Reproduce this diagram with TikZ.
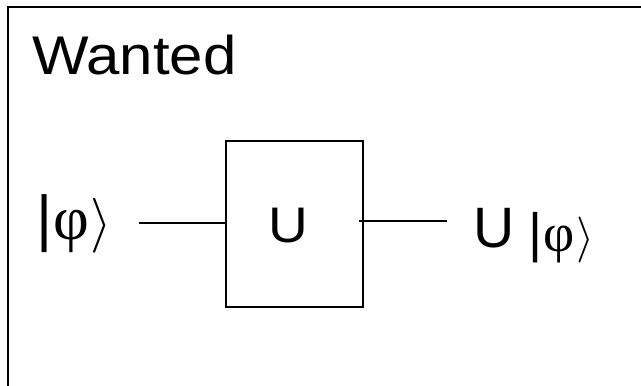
\documentclass[tikz,border=0pt]{standalone}
\usepackage{fontspec}
\usepackage{graphicx}
\setmainfont{Liberation Sans}
\newfontfamily\greekserif{Liberation Serif}
\tikzset{
  frame/.style={line width=2.4pt, draw=black},
  gate/.style={draw=black, line width=1.5pt, minimum width=137pt, minimum height=166pt, inner sep=0pt},
  wire/.style={draw=black, line width=1.4pt},
  lbl/.style={inner sep=0pt, outer sep=0pt},
}
% ket of phi: #1 font size, #2 scale of the closing angle bracket
\newcommand{\ketphi}[2]{{\fontsize{#1}{#1}\selectfont|\kern1pt{\greekserif φ}\kern2pt}{\normalsize\scalebox{#2}{$\rangle$}}}
\begin{document}
\begin{tikzpicture}[x=1pt,y=1pt]
  \clip (0,0) rectangle (641,386);
  \useasboundingbox (0,0) rectangle (641,386);
  % outer frame, open to the right and bottom
  \coordinate (fbl) at (8,-20);
  \coordinate (ftr) at (680,379);
  \draw[frame] (fbl) |- (ftr);
  % title
  \node[lbl, anchor=base west] (title) at (32,311)
    {\scalebox{1.1}[1]{\fontsize{54.5}{54.5}\selectfont Wanted}};
  % the gate
  \node[gate] (gate) at (294.5,162) {};
  \node[lbl, anchor=base] (gatelabel) at (288.5,143)
    {\scalebox{1.1}[1]{\fontsize{50}{50}\selectfont U}};
  % input and output states
  \node[lbl, anchor=base west] (in) at (36,146) {\ketphi{62}{5.5}};
  \node[lbl, anchor=base west] (out) at (473.5,138)
    {{\fontsize{57}{57}\selectfont U}\kern14pt\raisebox{-4pt}{\ketphi{54}{4.6}}};
  % wires
  \coordinate (win) at (139,163);
  \coordinate (wout) at (447,165);
  \draw[wire] (win) -- (win -| gate.west);
  \draw[wire] ([xshift=-5pt]gate.east |- wout) -- (wout);
\end{tikzpicture}
\end{document}
